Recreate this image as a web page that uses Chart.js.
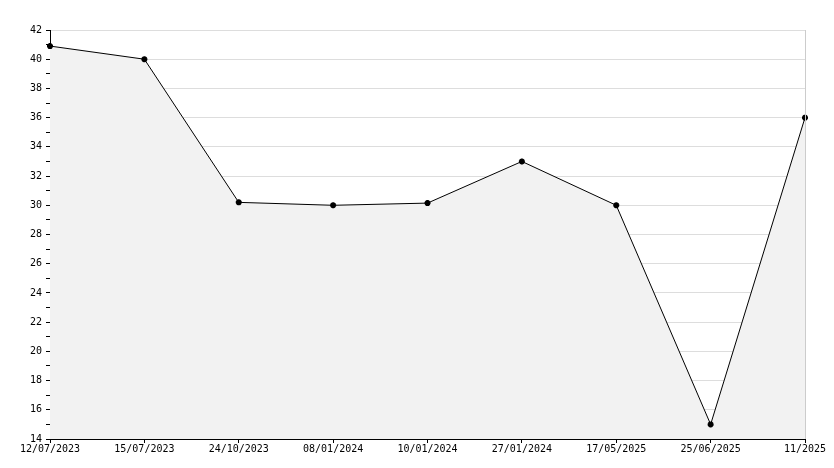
<!DOCTYPE html>
<html>
<head>
<meta charset="UTF-8">
<script src="https://cdn.jsdelivr.net/npm/chart.js"></script>
<style>body{margin:0;background:#fff}</style>
</head>
<body>
<div style="width:834px;height:468px;"><canvas id="grafico"></canvas></div>
<script>
const datas = ['12/07/2023','15/07/2023','24/10/2023','08/01/2024','10/01/2024','27/01/2024','17/05/2025','25/06/2025','11/2025']
const valores = [40.9, 40, 30.2, 30, 30.15, 33, 30, 15, 36]

// linha cinza na borda direita
const bordaDireita = {
  id: 'bordaDireita',
  afterDraw(chart) {
    const {ctx, chartArea} = chart
    ctx.save()
    ctx.strokeStyle = '#cccccc'
    ctx.lineWidth = 1
    ctx.beginPath()
    ctx.moveTo(chartArea.right + 0.5, chartArea.top)
    ctx.lineTo(chartArea.right + 0.5, chartArea.bottom)
    ctx.stroke()
    ctx.restore()
  }
}

new Chart(document.getElementById('grafico'), {
  type: 'line',
  data: {
    labels: datas,
    datasets: [{
      data: valores,
      borderColor: '#000',
      borderWidth: 1,
      backgroundColor: '#f2f2f2',
      fill: 'start',
      tension: 0,
      pointStyle: 'star',
      pointRadius: 3,
      pointBorderColor: '#000',
      pointBackgroundColor: '#000',
      pointBorderWidth: 2
    }]
  },
  plugins: [bordaDireita],
  options: {
    responsive: true,
    maintainAspectRatio: false,
    animation: false,
    layout: {padding: {top: 30, right: 29, left: 0, bottom: 0}},
    plugins: {legend: {display: false}, tooltip: {enabled: false}},
    scales: {
      x: {
        offset: false,
        afterFit: s => { s.height = 29 },
        border: {color: '#000'},
        grid: {drawOnChartArea: false, tickLength: 4, color: '#000'},
        ticks: {color: '#000', maxRotation: 0, autoSkip: false, padding: 0,
                font: {family: 'DejaVu Sans Mono', size: 10}}
      },
      y: {
        min: 14, max: 42,
        afterFit: s => { s.width = 50 },
        border: {color: '#000'},
        grid: {
          color: c => (c.tick && c.tick.value % 2 === 0) ? '#dddddd' : 'rgba(0,0,0,0)',
          tickColor: '#000',
          tickLength: 4
        },
        ticks: {stepSize: 1, color: '#000', padding: 4, autoSkip: false,
                font: {family: 'DejaVu Sans Mono', size: 10},
                callback: v => v % 2 === 0 ? v : ''}
      }
    }
  }
})
</script>
</body>
</html>
